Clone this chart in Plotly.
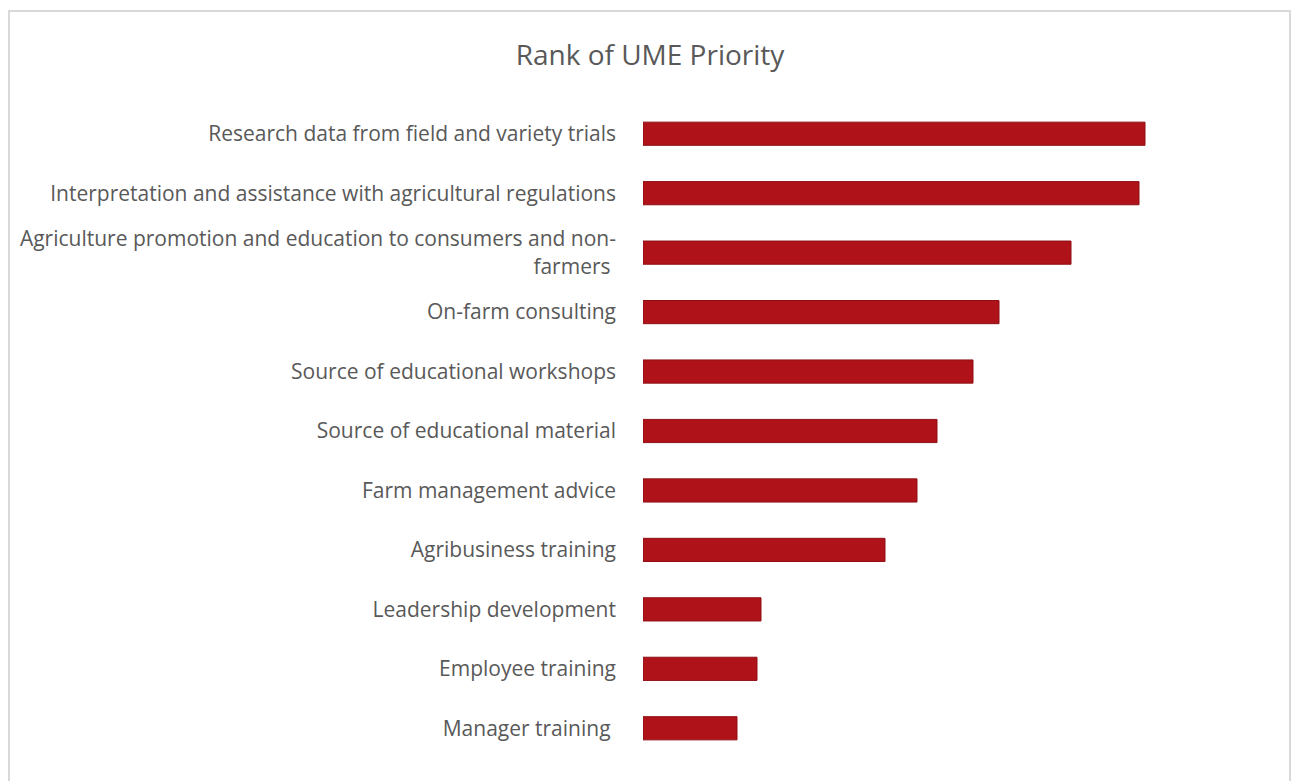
import plotly.graph_objects as go

# Priority items, listed top to bottom as drawn
categories = [
    "Research data from field and variety trials",
    "Interpretation and assistance with agricultural regulations",
    "Agriculture promotion and education to consumers and non-<br>farmers ",
    "On-farm consulting",
    "Source of educational workshops",
    "Source of educational material",
    "Farm management advice",
    "Agribusiness training",
    "Leadership development",
    "Employee training",
    "Manager training ",
]
scores = [25.1, 24.8, 21.4, 17.8, 16.5, 14.7, 13.7, 12.1, 5.9, 5.7, 4.7]

W, H = 1292, 781
L, R, T, B = 643, 49, 104, 23
pw, ph = W - L - R, H - T - B

fig = go.Figure(
    go.Bar(
        x=scores,
        y=categories,
        orientation="h",
        marker=dict(color="#AF1218", line=dict(color="#8E1015", width=1)),
        hoverinfo="x+y",
    )
)

# light frame around the whole chart (paper coordinates from pixel edges)
fx0 = (9 - L) / pw
fx1 = (1290 - L) / pw
fy1 = 1 + (T - 11) / ph
fy0 = -(B + 20) / ph
fig.add_shape(type="rect", xref="paper", yref="paper",
              x0=fx0, x1=fx1, y0=fy0, y1=fy1,
              line=dict(color="#D9D9D9", width=2), fillcolor="rgba(0,0,0,0)")

fig.update_layout(
    width=W, height=H,
    margin=dict(l=L, r=R, t=T, b=B, pad=0),
    paper_bgcolor="white", plot_bgcolor="white",
    bargap=0.61,
    showlegend=False,
    font=dict(family="Open Sans, sans-serif", color="#595959", size=21),
    title=dict(text="Rank of UME Priority", x=650 / W, xanchor="center",
               y=1 - 55 / H, yanchor="middle", yref="container",
               font=dict(size=28, color="#595959")),
    xaxis=dict(range=[0, 30], visible=False, showgrid=False, zeroline=False),
    yaxis=dict(autorange="reversed", showgrid=False, zeroline=False,
               showline=False, ticks="", ticklabelstandoff=26,
               tickfont=dict(size=21, color="#595959")),
)

fig.write_html("out.html")
